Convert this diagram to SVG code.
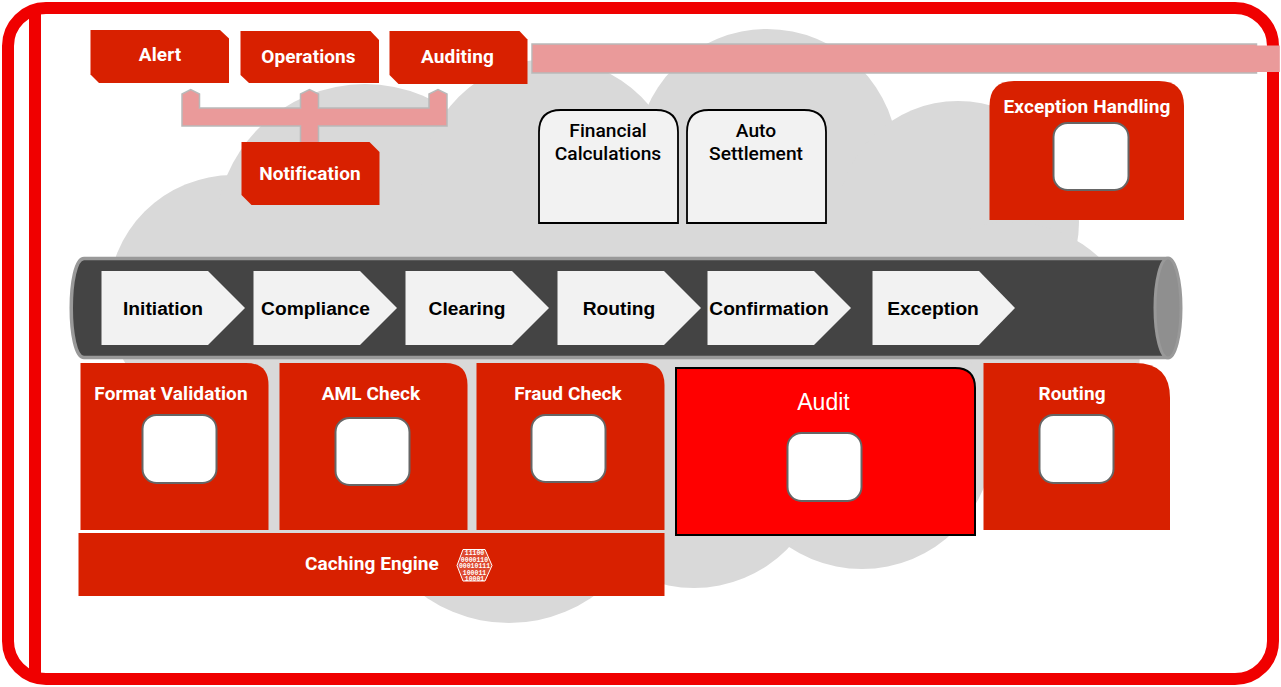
<svg xmlns="http://www.w3.org/2000/svg" width="1281" height="687" viewBox="0 0 1281 687">
<style>
.cloud{fill:#d9d9d9}
.r{fill:#d82000}
.band{fill:#ea9a9a;stroke:#b9b9b9;stroke-width:1.500}
.w{font-family:"Roboto","Liberation Sans",sans-serif;font-weight:700;font-size:19px;letter-spacing:.1px;fill:#fff;text-anchor:middle}
.k{font-family:"Liberation Sans",sans-serif;font-weight:700;font-size:19.200px;fill:#000;text-anchor:middle}
.f{font-family:"Roboto","Liberation Sans",sans-serif;font-weight:500;font-size:19.200px;fill:#000;text-anchor:middle}
.box{fill:#fff;stroke:#666;stroke-width:2}
.doc{fill:#f2f2f2;stroke:#000;stroke-width:1.800}
.chev{fill:#f2f2f2}
.bin{font-family:"Liberation Mono",monospace;font-weight:700;font-size:6.500px;fill:#fff;text-anchor:middle}
</style>
<rect width="1281" height="687" fill="#fff"/>
<g id="cloud" class="cloud">
<circle cx="233" cy="300" r="125"/>
<circle cx="365" cy="234" r="150"/>
<circle cx="550" cy="188" r="129"/>
<circle cx="767" cy="160" r="131"/>
<circle cx="958" cy="222" r="121"/>
<circle cx="1010" cy="352" r="130"/>
<circle cx="862" cy="437" r="132"/>
<circle cx="694" cy="457" r="131"/>
<circle cx="509" cy="476" r="147"/>
<rect x="200" y="200" width="770" height="300"/>
<rect x="200" y="480" width="464" height="54"/>
</g>
<g id="frame" fill="none" stroke="#f00000" stroke-width="12">
<rect x="8" y="8" width="1265" height="671" rx="38" ry="38"/>
<path d="M35 14V676"/>
</g>
<g id="connectors">
<path class="band" d="M182 126V94L190.700 89.500 199.500 94V108H300.500V94L309.500 89.500 318.500 94V108H429V94L438 89.500 447 94V126H318.500V143H300.500V126Z"/>
<path class="band" d="M532 44H1256.500V73H532Z"/>
<rect x="532.800" y="45.500" width="747" height="26.500" fill="#ea9a9a"/>
</g>
<g id="alert"><path class="r" d="M90.500 30H220L229 38.500V83H99L90.500 74.500Z"/><text class="w" x="160" y="61">Alert</text></g>
<g id="operations"><path class="r" d="M240.500 31H370.500L379 40V83H249L240.500 75Z"/><text class="w" x="308.500" y="63">Operations</text></g>
<g id="auditing"><path class="r" d="M389.500 31H519.500L527.500 39.500V84H398.500L389.500 75Z"/><text class="w" x="457.500" y="63">Auditing</text></g>
<g id="notification"><path class="r" d="M241.500 142H369.500L379.500 152V205H251.500L241.500 195Z"/><text class="w" x="310" y="180">Notification</text></g>
<g id="financial"><path class="doc" d="M539 223V132Q539 110 561 110H656Q678 110 678 132V223Z"/><text class="f" x="608" y="137">Financial</text><text class="f" x="608" y="160">Calculations</text></g>
<g id="settlement"><path class="doc" d="M687 223V132Q687 110 709 110H804Q826 110 826 132V223Z"/><text class="f" x="756" y="137">Auto</text><text class="f" x="756" y="160">Settlement</text></g>
<g id="exception-handling"><path class="r" d="M989.500 220V106Q989.500 81 1014 81H1159Q1184 81 1184 106V220Z"/><text class="w" x="1087" y="113">Exception Handling</text><rect class="box" x="1053.500" y="123" width="75" height="67" rx="14"/></g>
<g id="pipe">
<path d="M1165 258.500H84C67 258.500 67 357.500 84 357.500H1165Z" fill="#444" stroke="#999" stroke-width="3.500"/>
<ellipse cx="1168" cy="308" rx="13" ry="50" fill="#8f8f8f" stroke="#999" stroke-width="3"/>
</g>
<g id="initiation"><path class="chev" d="M101.500 271H208L245 308 208 345H101.500Z"/><text class="k" x="163" y="315">Initiation</text></g>
<g id="compliance"><path class="chev" d="M253.500 271H360L397 308 360 345H253.500Z"/><text class="k" x="315.500" y="315">Compliance</text></g>
<g id="clearing"><path class="chev" d="M405.500 271H512L549 308 512 345H405.500Z"/><text class="k" x="467" y="315">Clearing</text></g>
<g id="routing-step"><path class="chev" d="M557.500 271H664L701 308 664 345H557.500Z"/><text class="k" x="619" y="315">Routing</text></g>
<g id="confirmation"><path class="chev" d="M707.500 271H814L851 308 814 345H707.500Z"/><text class="k" x="769" y="315">Confirmation</text></g>
<g id="exception"><path class="chev" d="M872.500 271H979L1015 308 979 345H872.500Z"/><text class="k" x="933" y="315">Exception</text></g>
<g id="format-validation"><path class="r" d="M80.500 530V363H246Q268.500 363 268.500 385V530Z"/><text class="w" x="171" y="400">Format Validation</text><rect class="box" x="142.500" y="415" width="74" height="68" rx="14"/></g>
<g id="aml-check"><path class="r" d="M279.500 530V363H445Q467.500 363 467.500 385V530Z"/><text class="w" x="371" y="400">AML Check</text><rect class="box" x="335.500" y="418" width="74" height="67" rx="14"/></g>
<g id="fraud-check"><path class="r" d="M476.500 530V363H642Q664.500 363 664.500 385V530Z"/><text class="w" x="568" y="400">Fraud Check</text><rect class="box" x="531.500" y="415" width="74" height="67" rx="14"/></g>
<g id="audit"><path d="M676 535V368H955Q975 368 975 388V535Z" fill="#f00" stroke="#000" stroke-width="2"/><text x="823.500" y="410" font-family="Liberation Sans, sans-serif" font-size="23" fill="#fff" text-anchor="middle">Audit</text><rect class="box" x="787.500" y="433" width="74" height="68" rx="14"/></g>
<g id="routing"><path class="r" d="M983.500 530V363H1135Q1170 363 1170 398V530Z"/><text class="w" x="1072" y="400">Routing</text><rect class="box" x="1039.500" y="415" width="74" height="68" rx="14"/></g>
<g id="caching-engine"><rect class="r" x="78.500" y="533" width="586" height="63"/><text class="w" x="372" y="570">Caching Engine</text>
<path d="M463 549.500H485L492 565.500 485 581H463L457 565.500Z" fill="#de4a30" stroke="#fff" stroke-width="1"/>
<text class="bin" x="474.500" y="555">11100</text><text class="bin" x="474.500" y="561.500">0000110</text><text class="bin" x="474.500" y="568">00010111</text><text class="bin" x="474.500" y="574.500">100011</text><text class="bin" x="474.500" y="580.500">10001</text></g>
</svg>
